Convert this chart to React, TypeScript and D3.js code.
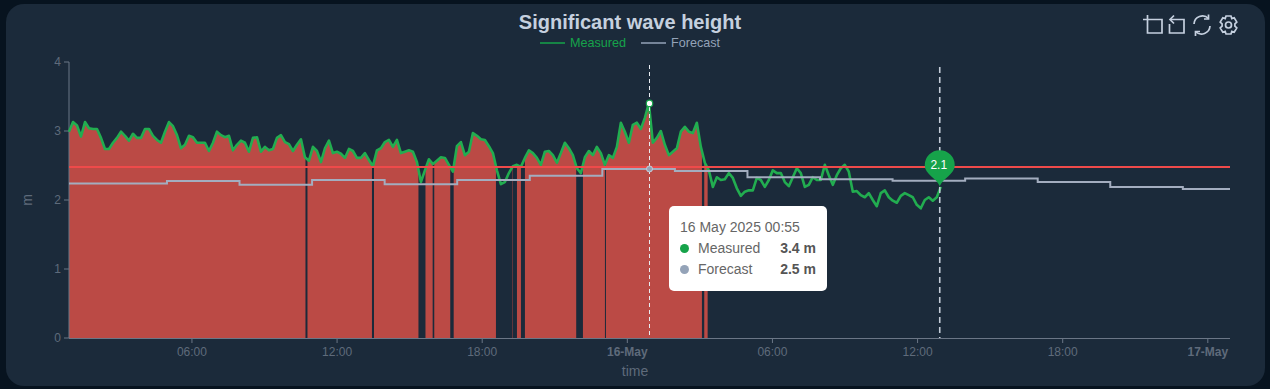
import React from "react";
import * as d3 from "d3";

const chartTitle = "Significant wave height";
const startTime = Date.UTC(2025, 4, 15, 0, 55);
const endTime = Date.UTC(2025, 4, 17, 0, 55);
const sampleMinutes = 9.92;
const measuredValues = [
  2.99,3.13,3.08,2.92,3.13,3.04,3.03,3.03,2.90,2.74,2.74,2.83,2.90,2.99,2.93,2.86,2.96,2.90,2.90,3.03,
  3.03,2.93,2.87,2.83,2.99,3.13,3.07,2.94,2.75,2.80,2.93,2.91,2.83,2.83,2.83,2.71,2.83,2.99,2.94,2.91,
  2.93,2.72,2.80,2.86,2.83,2.70,2.90,2.91,2.70,2.77,2.72,2.74,2.90,2.94,2.84,2.81,2.71,2.80,2.88,2.62,
  2.57,2.77,2.71,2.55,2.75,2.86,2.68,2.70,2.67,2.61,2.74,2.71,2.61,2.61,2.68,2.58,2.49,2.72,2.75,2.84,
  2.87,2.77,2.87,2.68,2.70,2.72,2.70,2.55,2.26,2.43,2.59,2.52,2.57,2.62,2.61,2.51,2.41,2.78,2.84,2.65,
  2.70,2.97,2.93,2.88,2.87,2.78,2.68,2.43,2.23,2.26,2.39,2.49,2.51,2.48,2.61,2.72,2.68,2.61,2.51,2.70,
  2.71,2.65,2.54,2.68,2.83,2.75,2.65,2.46,2.39,2.62,2.71,2.65,2.77,2.68,2.51,2.65,2.61,2.77,3.12,2.99,
  2.83,3.09,3.12,3.03,3.19,3.40,2.83,2.90,3.00,2.80,2.65,2.70,2.75,2.99,3.06,2.99,2.97,3.12,2.77,2.54,
  2.43,2.19,2.33,2.29,2.30,2.39,2.32,2.17,2.06,2.12,2.14,2.14,2.32,2.29,2.19,2.29,2.43,2.39,2.39,2.26,
  2.20,2.33,2.46,2.39,2.19,2.22,2.33,2.29,2.29,2.51,2.36,2.22,2.36,2.46,2.51,2.41,2.12,2.13,2.07,2.04,
  2.10,2.00,1.91,2.10,2.14,2.04,1.99,1.96,2.06,2.10,2.07,2.04,1.93,1.88,2.00,2.04,1.99,2.04,2.19,
];
const forecastHours = [0,4.05,7.05,10.05,13.05,16.05,19.05,22.05,25.05,28.05,31.05,34.05,37.05,40.05,43.05,46.05,48];
const forecastValues = [2.24,2.275,2.22,2.29,2.23,2.29,2.35,2.45,2.42,2.33,2.30,2.28,2.31,2.26,2.19,2.16,2.16];
const alertStartHours = [0,9.859,12.609,14.738,15.101,15.904,18.326,18.52,18.85,21.248,22.199,26.263];
const alertEndHours = [9.777,12.526,14.448,15.035,15.763,17.652,18.343,18.685,20.97,22.158,26.168,26.404];
const thresholdValue = 2.48;
const yTicks = [0,1,2,3,4];
const xTickHours = [5.083,11.083,17.083,23.083,29.083,35.083,41.083,47.083];
const xTickLabels = ["06:00","12:00","18:00","16-May","06:00","12:00","18:00","17-May"];
const pointerHour = 24;
const pointerMeasured = 3.4;
const pointerForecast = 2.45;
const pinLabel = "2.1";
const pinHour = 36.0;
const pinValue = 2.2;

const hour = 3600000;
const FONT = "'Liberation Sans', Arial, sans-serif";
const M = { left: 69, right: 1230, top: 62, bottom: 338 };

export default function App() {
  const x = d3.scaleTime().domain([new Date(startTime), new Date(endTime)]).range([M.left, M.right]);
  const y = d3.scaleLinear().domain([0, 4]).range([M.bottom, M.top]);
  const tAt = (h: number) => new Date(startTime + h * hour);
  const measured = measuredValues.map((v, i) => ({ t: new Date(startTime + i * sampleMinutes * 60000), v }));
  const forecast = forecastHours.map((h, i) => ({ t: tAt(h), v: forecastValues[i] }));
  const line = d3.line<{ t: Date; v: number }>().x(d => x(d.t)).y(d => y(d.v));
  const stepLine = d3.line<{ t: Date; v: number }>().x(d => x(d.t)).y(d => y(d.v)).curve(d3.curveStepAfter);
  const area = d3.area<{ t: Date; v: number }>().x(d => x(d.t)).y0(y(0)).y1(d => y(d.v));
  const pinX = x(tAt(pinHour));
  const pinY = y(pinValue);
  const ptrX = x(tAt(pointerHour));
  const axisColor = "#6b7686";
  const tickText = "#5f6b7b";
  const R = 15;
  const pinCy = pinY - 21;
  return (
    <svg width={1270} height={389} style={{ position: "absolute", left: 0, top: 0, display: "block" }} fontFamily={FONT}>
      <rect width={1270} height={389} fill="#07131f" />
      <rect x={6} y={4} width={1259} height={382} rx={18} fill="#1b2a3a" />
      <text x={630} y={29} textAnchor="middle" fontSize={20} fontWeight={700} fill="#c5d0df">{chartTitle}</text>

      <line x1={540} x2={565} y1={43} y2={43} stroke="#16a34a" strokeWidth={1.5} />
      <text x={570} y={47} fontSize={12.6} fill="#16a34a">Measured</text>
      <line x1={641} x2={666} y1={43} y2={43} stroke="#94a3b8" strokeWidth={1.5} />
      <text x={671} y={47} fontSize={12.6} fill="#94a3b8">Forecast</text>

      <g fill="none" stroke="#c5d0df" strokeWidth={1.7}>
        <path d="M1143 19.5H1162V33H1147.5V15" />
        <path d="M1171 19.5H1184V33H1169.5V24" />
        <path d="M1174 15.5L1170 19.5L1174 23.5" />
        <path d="M1194 24a8.5 8.5 0 0 1 14.5 -5.5M1210 26a8.5 8.5 0 0 1 -14.5 5.5" />
        <path d="M1208.5 14.5V19H1204M1195.5 36V31.5H1200" />
        <path d="M1226 16h5l.8 2.6 2.4-.8 2.6 4.2-1.9 1.9v2.2l1.9 1.9-2.6 4.2-2.4-.8-.8 2.6h-5l-.8-2.6-2.4.8-2.6-4.2 1.9-1.9v-2.2l-1.9-1.9 2.6-4.2 2.4.8z" />
        <circle cx={1228.5} cy={25} r={3} />
      </g>

      <defs>
        <clipPath id="alerts">
          {alertStartHours.map((h, i) => (
            <rect key={i} x={x(tAt(h))} y={M.top} width={x(tAt(alertEndHours[i])) - x(tAt(h))} height={M.bottom - M.top} />
          ))}
        </clipPath>
      </defs>

      <path d={area(measured) || ""} fill="#bb4a45" clipPath="url(#alerts)" />

      <line x1={M.left} x2={M.left} y1={M.top} y2={M.bottom} stroke={axisColor} />
      <line x1={M.left} x2={M.right} y1={M.bottom + 0.5} y2={M.bottom + 0.5} stroke={axisColor} />
      {yTicks.map(t => (
        <g key={t}>
          <line x1={M.left - 5} x2={M.left} y1={y(t)} y2={y(t)} stroke={axisColor} />
          <text x={M.left - 8} y={y(t) + 4} textAnchor="end" fontSize={12} fill={tickText}>{t}</text>
        </g>
      ))}
      {xTickHours.map((h, i) => {
        const tx = x(tAt(h));
        const bold = xTickLabels[i].includes("May");
        return (
          <g key={i}>
            <line x1={tx} x2={tx} y1={M.bottom} y2={M.bottom + 5} stroke={axisColor} />
            <text x={tx} y={M.bottom + 18} textAnchor="middle" fontSize={12} fontWeight={bold ? 700 : 400} fill={tickText}>{xTickLabels[i]}</text>
          </g>
        );
      })}
      <text x={635} y={376} textAnchor="middle" fontSize={14} fill={tickText}>time</text>
      <text transform="translate(32,200) rotate(-90)" textAnchor="middle" fontSize={14} fill={tickText}>m</text>

      <path d={line(measured) || ""} fill="none" stroke="#22ad50" strokeWidth={2.6} strokeLinejoin="round" />
      <path d={stepLine(forecast) || ""} fill="none" stroke="#a3adbf" strokeWidth={2} />
      <line x1={M.left} x2={M.right} y1={y(thresholdValue)} y2={y(thresholdValue)} stroke="#ef4a4a" strokeWidth={2} />

      <line x1={pinX} x2={pinX} y1={67} y2={M.bottom} stroke="#c3ccd8" strokeWidth={1.6} strokeDasharray="6 4" />
      <line x1={ptrX} x2={ptrX} y1={65} y2={M.bottom} stroke="#e8ecf1" strokeWidth={1} strokeDasharray="4 3" />
      <circle cx={ptrX} cy={y(pointerMeasured)} r={3.2} fill="#fff" stroke="#16a34a" strokeWidth={1.2} />
      <circle cx={ptrX} cy={y(pointerForecast)} r={3} fill="#94a3b8" stroke="#c7ced8" strokeWidth={1} />

      <path d={`M${pinX} ${pinY} C${pinX - 3} ${pinCy + R - 2} ${pinX - R} ${pinCy + 9} ${pinX - R} ${pinCy} A${R} ${R} 0 1 1 ${pinX + R} ${pinCy} C${pinX + R} ${pinCy + 9} ${pinX + 3} ${pinCy + R - 2} ${pinX} ${pinY}Z`} fill="#16a34a" />
      <text x={pinX - 1} y={pinCy + 4} textAnchor="middle" fontSize={12} fill="#fff">{pinLabel}</text>

      <rect x={669} y={206} width={158} height={85} rx={5} fill="#fff" />
      <text x={680} y={232} fontSize={14} fill="#666">16 May 2025 00:55</text>
      <circle cx={684.5} cy={248.5} r={4.5} fill="#16a34a" />
      <text x={698} y={253} fontSize={14} fill="#666">Measured</text>
      <text x={816} y={253} textAnchor="end" fontSize={14} fontWeight={700} fill="#555">3.4 m</text>
      <circle cx={684.5} cy={269.5} r={4.5} fill="#94a3b8" />
      <text x={698} y={274} fontSize={14} fill="#666">Forecast</text>
      <text x={816} y={274} textAnchor="end" fontSize={14} fontWeight={700} fill="#555">2.5 m</text>
    </svg>
  );
}
